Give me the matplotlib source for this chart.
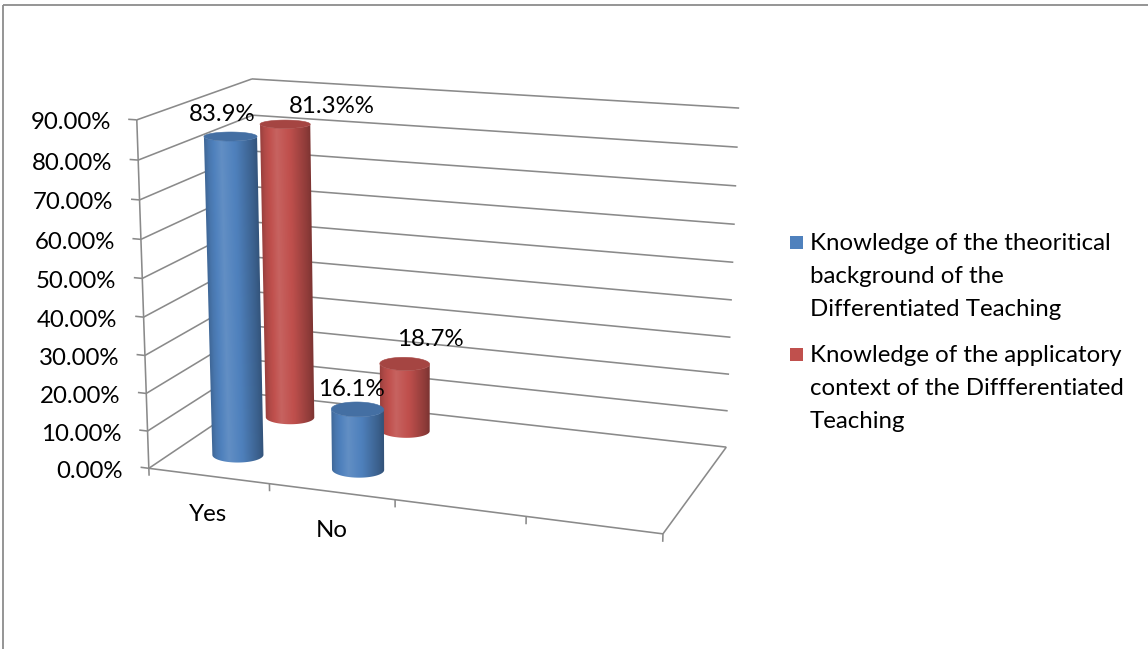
import numpy as np
import matplotlib
matplotlib.use("Agg")
import matplotlib.pyplot as plt
from matplotlib.patches import Polygon, Rectangle
from matplotlib.colors import to_rgb

plt.rcParams['font.family'] = ['Lato', 'DejaVu Sans']

# ---------------- data ----------------
categories = ["Yes", "No", "", ""]
theory_values = [83.9, 16.1]
applied_values = [81.3, 18.7]
theory_labels = ["83.9%", "16.1%"]
applied_labels = ["81.3%%", "18.7%"]
legend_theory = ["Knowledge of the theoritical", "background of the", "Differentiated Teaching"]
legend_applied = ["Knowledge of the applicatory", "context of the Diffferentiated", "Teaching"]
y_ticks = [0, 10, 20, 30, 40, 50, 60, 70, 80, 90]
y_tick_labels = ["0.00%", "10.00%", "20.00%", "30.00%", "40.00%",
                 "50.00%", "60.00%", "70.00%", "80.00%", "90.00%"]

# ---------------- styling ----------------
W, H = 1148, 649
GRID = '#8a8a8a'
BLUE = '#4F81BD'
RED = '#C0504D'
FS = 17.3

fig = plt.figure(figsize=(W / 100, H / 100), dpi=100)
ax = fig.add_axes([0, 0, 1, 1])
ax.set_xlim(0, W)
ax.set_ylim(H, 0)
ax.axis('off')

# ---------------- perspective camera (fitted to frame anchors) ----------------
ncat = len(categories)
vmax = max(y_ticks)
frame_3d = [(0, 0, 90), (0, 0, 80), (0, 0, 10), (0, 0, 0), (0, 1, 90),
            (ncat, 1, 90), (ncat, 1, 80), (ncat, 1, 70), (ncat, 1, 10), (ncat, 1, 0),
            (1, 0, 0), (2, 0, 0), (3, 0, 0), (ncat, 0, 0)]
frame_px = [(137, 120), (138, 160), (147, 431), (149, 468), (252, 79),
            (739, 108), (738, 147), (736, 186), (728, 411), (726, 447),
            (270, 483), (395, 501), (526, 517), (663, 533)]
ZS = 100.0
PS = 1000.0
rows = []
for (X, Y, Z), (u, v) in zip(frame_3d, frame_px):
    Z = Z / ZS
    u = u / PS
    v = v / PS
    rows.append([X, Y, Z, 1, 0, 0, 0, 0, -u * X, -u * Y, -u * Z, -u])
    rows.append([0, 0, 0, 0, X, Y, Z, 1, -v * X, -v * Y, -v * Z, -v])
_, _, Vt = np.linalg.svd(np.array(rows, float))
P = Vt[-1].reshape(3, 4)
_, _, Vc = np.linalg.svd(P)
cam = Vc[-1]
cam = cam[:3] / cam[3]


def proj(X, Y, Z):
    X = np.asarray(X, float)
    Y = np.asarray(Y, float)
    Z = np.asarray(Z, float) / ZS
    pts = np.stack([X, Y, Z, np.ones_like(X)], axis=0)
    h = P @ pts
    return h[0] / h[2] * PS, h[1] / h[2] * PS


def line3d(p0, p1):
    u, v = proj([p0[0], p1[0]], [p0[1], p1[1]], [p0[2], p1[2]])
    ax.plot(u, v, color=GRID, lw=1.15, solid_capstyle='butt', zorder=1)


# walls: gridlines
for t in y_ticks:
    line3d((0, 0, t), (0, 1, t))
    line3d((0, 1, t), (ncat, 1, t))
# floor edges
line3d((0, 0, 0), (ncat, 0, 0))
line3d((ncat, 0, 0), (ncat, 1, 0))
# value axis and ticks
line3d((0, 0, 0), (0, 0, vmax))
for t, lab in zip(y_ticks, y_tick_labels):
    line3d((0, 0, t), (-0.07, 0, t))
    u, v = proj([0], [0], [t])
    ax.text(u[0] - 26, v[0] + 3, lab, ha='right', va='center', fontsize=FS, color='black', zorder=60)
# category ticks and labels
for i in range(ncat + 1):
    line3d((i, 0, 0), (i, 0, -2))
for i, c in enumerate(categories):
    if c:
        u, v = proj([i + 0.5], [0], [0])
        ax.text(u[0], v[0] + 39, c, ha='center', va='center', fontsize=FS, color='black', zorder=60)


# ---------------- cylinders ----------------
def shade_arr(col, f):
    c = np.array(to_rgb(col))
    f = np.asarray(f)[..., None]
    lighter = c + (1 - c) * (f - 1) * 0.9
    darker = c * f
    return np.clip(np.where(f >= 1, lighter, darker), 0, 1)


PROFILE_T = [0, 0.08, 0.32, 0.6, 0.9, 1]
PROFILE_F = [0.80, 0.92, 1.12, 0.98, 0.74, 0.64]


def cylinder(xc, yc, val, color, z0, rx=0.2, ry=0.09, n=360):
    th = np.linspace(0, 2 * np.pi, n, endpoint=False)
    xs = xc + rx * np.cos(th)
    ys = yc + ry * np.sin(th)
    nx = np.cos(th) / rx
    ny = np.sin(th) / ry
    vis = (cam[0] - xs) * nx + (cam[1] - ys) * ny > 0
    start = np.where(vis & ~np.roll(vis, 1))[0][0]
    idx = np.roll(np.arange(n), -start)[:vis.sum() + 1]
    tb = np.unwrap(th[idx])
    xb = xc + rx * np.cos(tb)
    yb = yc + ry * np.sin(tb)
    ub, vb = proj(xb, yb, np.zeros_like(xb))
    ut, vt = proj(xb, yb, np.full_like(xb, val))
    if ub[0] > ub[-1]:
        ub, vb, ut, vt = ub[::-1], vb[::-1], ut[::-1], vt[::-1]
    body = np.vstack([np.column_stack([ub, vb]), np.column_stack([ut, vt])[::-1]])
    clip = Polygon(body, closed=True, facecolor='none', edgecolor='none', zorder=z0)
    ax.add_patch(clip)
    x0, x1 = body[:, 0].min() - 1, body[:, 0].max() + 1
    y0, y1 = body[:, 1].min() - 1, body[:, 1].max() + 1
    nxp = int((x1 - x0) * 3) + 2
    nyp = int((y1 - y0) * 2) + 2
    gx = np.linspace(x0, x1, nxp)
    gy = np.linspace(y0, y1, nyp)
    GX, GY = np.meshgrid(gx, gy)
    # silhouette edges (left / right) as straight lines bottom->top
    sl = (GY - vb[0]) / (vt[0] - vb[0])
    xl = ub[0] + sl * (ut[0] - ub[0])
    sr = (GY - vb[-1]) / (vt[-1] - vb[-1])
    xr = ub[-1] + sr * (ut[-1] - ub[-1])
    T = np.clip((GX - xl) / (xr - xl), 0, 1)
    F = np.interp(T, PROFILE_T, PROFILE_F)
    img = shade_arr(color, F)
    im = ax.imshow(img, extent=(x0, x1, y1, y0), origin='upper', interpolation='bilinear',
                   zorder=z0, aspect='auto')
    im.set_clip_path(clip)
    # top cap
    ux, vx = proj(xc + rx * np.cos(th), yc + ry * np.sin(th), np.full_like(th, val))
    topc = tuple(shade_arr(color, 0.86))
    ax.add_patch(Polygon(np.column_stack([ux, vx]), closed=True,
                         facecolor=topc, edgecolor=topc, lw=0.4, zorder=z0 + 0.5))


rows_depth = [0.26, 0.76]
series = [(theory_values, theory_labels, BLUE, rows_depth[0]),
          (applied_values, applied_labels, RED, rows_depth[1])]
label_offsets = [[(-8, -22), (-6, -20)], [(47, -18), (26, -24)]]

z = 10
for si in [1, 0]:  # back row first
    vals, labs, col, yc = series[si]
    for ci, val in enumerate(vals):
        cylinder(ci + 0.5, yc, val, col, z)
        z += 1

for si in [1, 0]:
    vals, labs, col, yc = series[si]
    for ci, (val, lab) in enumerate(zip(vals, labs)):
        u, v = proj([ci + 0.5], [yc], [val])
        dx, dy = label_offsets[si][ci]
        ax.text(u[0] + dx, v[0] + dy, lab, ha='center', va='center', fontsize=FS, color='black', zorder=60)

# ---------------- legend ----------------
for (lines, col, y0) in [(legend_theory, BLUE, 242), (legend_applied, RED, 354)]:
    ax.add_patch(Rectangle((790, y0 - 6), 13, 13, facecolor=col, edgecolor='none', zorder=60))
    for k, ln in enumerate(lines):
        ax.text(810, y0 + 2 + k * 32.5, ln, ha='left', va='center', fontsize=FS, color='black', zorder=60)

# ---------------- outer frame (cropped chart border) ----------------
ax.plot([3, W], [5, 5], color='#8c8c8c', lw=1.3, solid_capstyle='butt', zorder=70)
ax.plot([3, 3], [5, H], color='#8c8c8c', lw=1.3, solid_capstyle='butt', zorder=70)

fig.savefig('out.png', dpi=100)
